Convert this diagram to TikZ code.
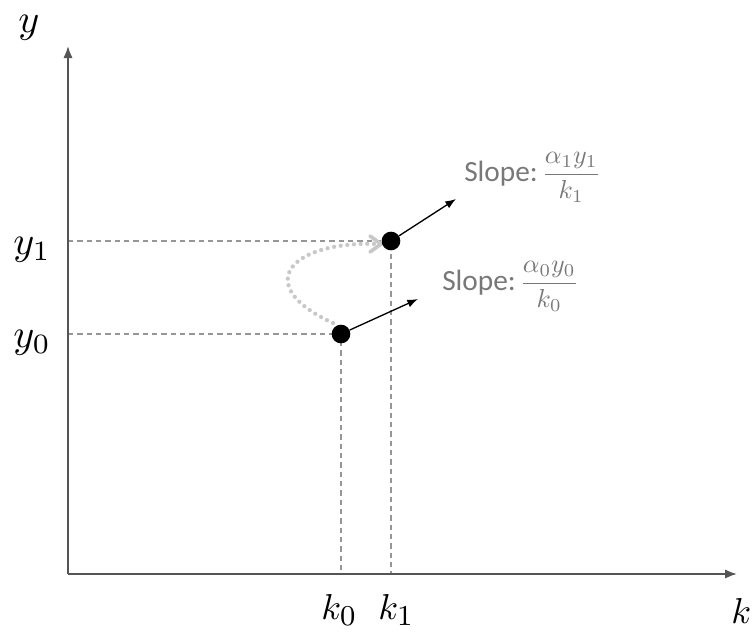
\documentclass[tikz,border=0pt]{standalone}
\usepackage{graphicx}
\usepackage{fontspec}
\newfontfamily\calibri{Carlito}
\usetikzlibrary{arrows.meta}
\definecolor{axisgray}{RGB}{85,85,85}
\definecolor{dashgray}{RGB}{150,150,150}
\definecolor{textgray}{RGB}{120,120,120}
\definecolor{curvegray}{RGB}{200,200,200}
\tikzset{
  axis/.style={draw=axisgray, line width=1.4pt, -{Latex[length=9pt,width=7pt]}},
  guide/.style={draw=dashgray, line width=0.8pt, dash pattern=on 4pt off 3pt},
  dot/.style={circle, fill=black, inner sep=0pt, minimum size=14pt},
  slopearrow/.style={draw=black, line width=1pt, -{Latex[length=8pt,width=6pt]}},
  lbl/.style={inner sep=0pt, anchor=base west},
  slopelbl/.style={inner sep=0pt, text=textgray, anchor=base west},
  move/.style={draw=curvegray, line width=3.2pt, dash pattern=on 0pt off 5pt, line cap=round}
}
\newcommand{\mscale}[2]{\scalebox{#1}{\fontsize{10}{12}\selectfont$#2$}}
\newcommand{\bsub}[1]{_{\hbox{\fontsize{8}{8}\selectfont$#1$}}}
\newcommand{\slopetext}[1]{\scalebox{2.2}{\calibri\fontsize{10}{12}\selectfont Slope:}\hspace{3pt}\mscale{1.95}{\displaystyle #1}}
\begin{document}
\begin{tikzpicture}[x=0.75pt, y=-0.75pt]
\useasboundingbox (0,0) rectangle (753,639);
\coordinate (O) at (68,574);
\coordinate (ytop) at (68,46);
\coordinate (xend) at (737,574);
\coordinate (y1a) at (68,241);
\coordinate (y0a) at (68,334);
\coordinate (k1a) at (391,574);
\coordinate (k0a) at (341,574);
\coordinate (a0) at (418,299);
\coordinate (a1) at (456,199);
\coordinate (cs) at (333,323);
\coordinate (ce) at (381,244);
\draw[guide] (y1a) -- (391,241) -- (k1a);
\draw[guide] (y0a) -- (341,334) -- (k0a);
\draw[axis] (O) -- (ytop);
\draw[axis] (O) -- (xend);
\draw[move] (cs) .. controls (250,285) and (290,240) .. (ce);
\draw[curvegray, line width=2.8pt, line cap=round, line join=round] (370,236) -- (ce) -- (370,252);
\node[dot] (p1) at (391,241) {};
\node[dot] (p0) at (341,334) {};
\draw[slopearrow] (p0) -- (a0);
\draw[slopearrow] (p1) -- (a1);
\node[slopelbl] (s1) at (464,181) {\slopetext{\frac{\alpha_1 y_1}{k_1}}};
\node[slopelbl] (s0) at (442,290) {\slopetext{\frac{\alpha_0 y_0}{k_0}}};
\node[lbl] (ylab) at (18,32) {\mscale{3}{y}};
\node[lbl] (y1lab) at (13,254) {\mscale{3}{y_1}};
\node[lbl] (y0lab) at (13,347) {\mscale{3}{y_0}};
\node[lbl] (k0lab) at (321,619) {\mscale{2.7}{k\bsub{0}}};
\node[lbl] (k1lab) at (378,619) {\mscale{2.7}{k\bsub{1}}};
\node[lbl] (klab) at (731,623) {\mscale{2.7}{k}};
\end{tikzpicture}
\end{document}
